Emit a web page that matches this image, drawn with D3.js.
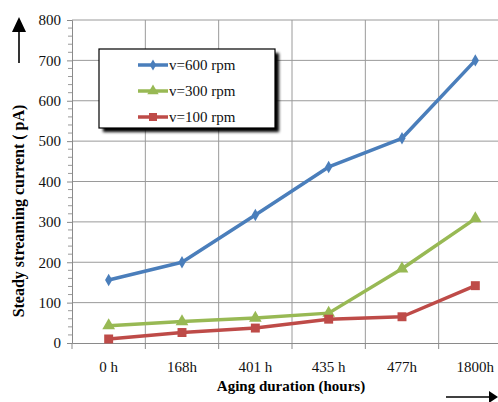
<!DOCTYPE html>
<html>
<head>
<meta charset="utf-8">
<script src="https://cdn.jsdelivr.net/npm/d3@7"></script>
<style>
  html, body { margin: 0; padding: 0; background: #fff; }
  svg { display: block; }
</style>
</head>
<body>
<svg id="chart" width="498" height="402"></svg>
<script>
// Aging duration categories
const categories = ["0 h", "168h", "401 h", "435 h", "477h", "1800h"];

// Steady streaming current (pA) per rotation speed
const rpm600 = [156, 200, 317, 436, 507, 700];
const rpm300 = [43, 53, 62, 74, 184, 308];
const rpm100 = [10, 26, 37, 59, 65, 142];

const seriesNames = ["v=600 rpm", "v=300 rpm", "v=100 rpm"];
const yTicks = [0, 100, 200, 300, 400, 500, 600, 700, 800];

const series = [
  { name: seriesNames[0], values: rpm600, color: "#4A7EBB", marker: "diamond" },
  { name: seriesNames[1], values: rpm300, color: "#98B954", marker: "triangle" },
  { name: seriesNames[2], values: rpm100, color: "#BE4B48", marker: "square" }
];

const SERIF = "'Liberation Serif', 'Times New Roman', Times, 'DejaVu Serif', serif";

const svg = d3.select("#chart");
const plotLeft = 72, plotTop = 20, plotBottom = 343, plotRight = 512;

const x = d3.scaleBand().domain(categories).range([plotLeft, plotRight]);
const y = d3.scaleLinear().domain([0, 800]).range([plotBottom, plotTop]);

const defs = svg.append("defs");
const f = defs.append("filter").attr("id", "shadow")
  .attr("x", "-10%").attr("y", "-10%").attr("width", "130%").attr("height", "140%");
f.append("feGaussianBlur").attr("in", "SourceAlpha").attr("stdDeviation", 1.6);

const g = svg.append("g");

// horizontal gridlines
g.append("g").selectAll("line").data(yTicks.slice(1)).join("line")
  .attr("x1", plotLeft).attr("x2", plotRight)
  .attr("y1", d => y(d)).attr("y2", d => y(d))
  .attr("stroke", "#9a9a9a").attr("stroke-width", 1);

// vertical gridlines at category boundaries
const bounds = categories.slice(1).map(c => x(c));
g.append("g").selectAll("line").data(bounds).join("line")
  .attr("x1", d => d).attr("x2", d => d)
  .attr("y1", plotTop).attr("y2", plotBottom)
  .attr("stroke", "#9a9a9a").attr("stroke-width", 1);

// y axis with major and minor ticks
const yAxis = d3.axisLeft(y).tickValues(yTicks).tickSize(5).tickPadding(6).tickFormat(d3.format("d"));
const ya = svg.append("g").attr("transform", `translate(${plotLeft},0)`).call(yAxis);
ya.attr("font-family", null).attr("font-size", null);
ya.select(".domain").attr("stroke", "#8a8a8a");
ya.selectAll(".tick line").attr("stroke", "#8a8a8a");
ya.selectAll(".tick text").style("font-family", SERIF).style("font-size", "15px").attr("fill", "#111");
const minor = d3.range(0, 801, 20).filter(v => v % 100 !== 0);
svg.append("g").selectAll("line").data(minor).join("line")
  .attr("x1", plotLeft - 4).attr("x2", plotLeft)
  .attr("y1", d => y(d)).attr("y2", d => y(d))
  .attr("stroke", "#9a9a9a");

// x axis
const xAxis = d3.axisBottom(x).tickSize(0).tickPadding(18);
const xa = g.append("g").attr("transform", `translate(0,${plotBottom})`).call(xAxis);
xa.attr("font-family", null).attr("font-size", null);
xa.select(".domain").attr("stroke", "#8a8a8a");
xa.selectAll(".tick text").style("font-family", SERIF).style("font-size", "15px").attr("fill", "#111");
g.append("g").selectAll("line").data([plotLeft].concat(bounds)).join("line")
  .attr("x1", d => d).attr("x2", d => d)
  .attr("y1", plotBottom).attr("y2", plotBottom + 6)
  .attr("stroke", "#8a8a8a");

// series lines and markers
const line = d3.line().x((d, i) => x(categories[i]) + x.bandwidth() / 2).y(d => y(d));
const symbolFor = { diamond: d3.symbolDiamond, triangle: d3.symbolTriangle, square: d3.symbolSquare };
const sizeFor = { diamond: 45, triangle: 70, square: 80 };

series.forEach(s => {
  g.append("path").datum(s.values)
    .attr("d", line).attr("fill", "none")
    .attr("stroke", s.color).attr("stroke-width", 3.5)
    .attr("stroke-linejoin", "round");
  g.append("g").selectAll("path").data(s.values).join("path")
    .attr("transform", (d, i) => `translate(${x(categories[i]) + x.bandwidth() / 2},${y(d)})`)
    .attr("d", d3.symbol().type(symbolFor[s.marker]).size(sizeFor[s.marker]))
    .attr("fill", s.color);
});

// legend
const lg = svg.append("g");
const lx = 99, ly = 49, lw = 176, lh = 79;
lg.append("rect").attr("x", lx + 4).attr("y", ly + 4).attr("width", lw).attr("height", lh)
  .attr("fill", "#000").attr("filter", "url(#shadow)");
lg.append("rect").attr("x", lx).attr("y", ly).attr("width", lw).attr("height", lh)
  .attr("fill", "#fff").attr("stroke", "#000").attr("stroke-width", 1.2);
series.forEach((s, i) => {
  const cy = 65 + i * 26;
  lg.append("line").attr("x1", 138).attr("x2", 168).attr("y1", cy).attr("y2", cy)
    .attr("stroke", s.color).attr("stroke-width", 3.5);
  lg.append("path").attr("transform", `translate(153,${cy})`)
    .attr("d", d3.symbol().type(symbolFor[s.marker]).size(sizeFor[s.marker] * 0.8))
    .attr("fill", s.color);
  lg.append("text").attr("x", 169).attr("y", cy + 5)
    .style("font-family", SERIF).style("font-size", "15px").attr("fill", "#111")
    .text(s.name);
});

// axis titles
svg.append("text")
  .attr("transform", "translate(24,211) rotate(-90)")
  .attr("text-anchor", "middle")
  .style("font-family", SERIF).style("font-size", "16px").style("font-weight", "bold")
  .text("Steady streaming current ( pA)");
svg.append("text")
  .attr("x", 291).attr("y", 391)
  .attr("text-anchor", "middle")
  .style("font-family", SERIF).style("font-size", "15px").style("font-weight", "bold")
  .text("Aging duration (hours)");

// direction arrows
svg.append("line").attr("x1", 19).attr("x2", 19).attr("y1", 63).attr("y2", 30)
  .attr("stroke", "#000").attr("stroke-width", 1.6);
svg.append("path").attr("d", "M19,17 L12,32 L26,32 Z").attr("fill", "#000");
svg.append("line").attr("x1", 446).attr("x2", 492).attr("y1", 397).attr("y2", 397)
  .attr("stroke", "#000").attr("stroke-width", 1.6);
svg.append("path").attr("d", "M498,397 L489,391 L489,403 Z").attr("fill", "#000");
</script>
</body>
</html>
